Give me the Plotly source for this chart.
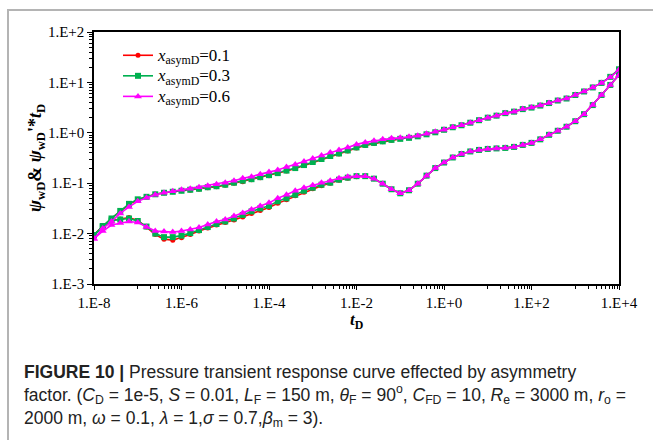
import plotly.graph_objects as go

# ---------------- data ----------------
log_t = [-8.0, -7.8, -7.6, -7.4, -7.2, -7.0, -6.8, -6.6, -6.4, -6.2,
         -6.0, -5.8, -5.6, -5.4, -5.2, -5.0, -4.8, -4.6, -4.4, -4.2,
         -4.0, -3.8, -3.6, -3.4, -3.2, -3.0, -2.8, -2.6, -2.4, -2.2,
         -2.0, -1.8, -1.6, -1.4, -1.2, -1.0, -0.8, -0.6, -0.4, -0.2,
         0.0, 0.2, 0.4, 0.6, 0.8, 1.0, 1.2, 1.4, 1.6, 1.8,
         2.0, 2.2, 2.4, 2.6, 2.8, 3.0, 3.2, 3.4, 3.6, 3.8, 4.0]

# log10 of psi_wD (pressure) for each asymmetry factor
log_psi_01 = [-2.02, -1.85, -1.70, -1.56, -1.42, -1.33, -1.27, -1.22, -1.19, -1.17,
              -1.15, -1.14, -1.12, -1.09, -1.07, -1.04, -1.00, -0.97, -0.93, -0.89,
              -0.85, -0.81, -0.76, -0.71, -0.65, -0.59, -0.53, -0.47, -0.42, -0.36,
              -0.30, -0.25, -0.21, -0.18, -0.15, -0.12, -0.10, -0.07, -0.03, 0.01,
              0.06, 0.11, 0.15, 0.20, 0.25, 0.30, 0.34, 0.39, 0.42, 0.47,
              0.50, 0.54, 0.59, 0.64, 0.68, 0.75, 0.82, 0.90, 0.99, 1.11, 1.26]
log_psi_03 = [-2.03, -1.85, -1.70, -1.55, -1.41, -1.32, -1.27, -1.22, -1.19, -1.17,
              -1.15, -1.13, -1.11, -1.08, -1.06, -1.03, -0.99, -0.95, -0.92, -0.88,
              -0.84, -0.80, -0.75, -0.70, -0.64, -0.58, -0.52, -0.46, -0.41, -0.35,
              -0.29, -0.24, -0.20, -0.17, -0.14, -0.12, -0.10, -0.07, -0.03, 0.01,
              0.06, 0.11, 0.15, 0.20, 0.25, 0.30, 0.34, 0.39, 0.42, 0.47,
              0.50, 0.54, 0.59, 0.64, 0.68, 0.75, 0.82, 0.90, 0.99, 1.11, 1.26]
log_psi_06 = [-2.10, -1.90, -1.76, -1.60, -1.47, -1.36, -1.29, -1.23, -1.19, -1.16,
              -1.13, -1.11, -1.08, -1.05, -1.02, -0.99, -0.95, -0.90, -0.87, -0.82,
              -0.78, -0.74, -0.68, -0.63, -0.57, -0.51, -0.45, -0.39, -0.34, -0.29,
              -0.23, -0.19, -0.16, -0.13, -0.11, -0.10, -0.08, -0.06, -0.02, 0.02,
              0.06, 0.11, 0.15, 0.20, 0.25, 0.30, 0.34, 0.39, 0.42, 0.47,
              0.50, 0.54, 0.59, 0.64, 0.68, 0.75, 0.82, 0.90, 0.99, 1.10, 1.25]

# log10 of psi_wD' * t_D (derivative)
log_der_01 = [-2.03, -1.86, -1.74, -1.71, -1.68, -1.74, -1.87, -2.02, -2.11, -2.13,
              -2.08, -2.02, -1.95, -1.89, -1.83, -1.78, -1.73, -1.67, -1.60, -1.54,
              -1.48, -1.40, -1.33, -1.25, -1.18, -1.11, -1.05, -1.00, -0.94, -0.90,
              -0.87, -0.86, -0.91, -1.01, -1.12, -1.20, -1.14, -1.01, -0.85, -0.70,
              -0.59, -0.49, -0.42, -0.37, -0.34, -0.32, -0.31, -0.30, -0.28, -0.24,
              -0.20, -0.13, -0.04, 0.04, 0.12, 0.23, 0.37, 0.55, 0.75, 0.95, 1.15]
log_der_03 = [-2.03, -1.86, -1.74, -1.72, -1.70, -1.75, -1.86, -2.00, -2.07, -2.07,
              -2.04, -1.99, -1.93, -1.87, -1.81, -1.76, -1.70, -1.63, -1.56, -1.50,
              -1.45, -1.36, -1.30, -1.23, -1.15, -1.09, -1.03, -0.99, -0.93, -0.89,
              -0.86, -0.86, -0.91, -1.01, -1.12, -1.20, -1.14, -1.01, -0.85, -0.70,
              -0.59, -0.49, -0.42, -0.37, -0.34, -0.32, -0.31, -0.30, -0.28, -0.24,
              -0.20, -0.13, -0.04, 0.04, 0.12, 0.23, 0.37, 0.55, 0.75, 0.95, 1.15]
log_der_06 = [-2.10, -1.95, -1.83, -1.79, -1.76, -1.78, -1.87, -1.95, -1.96, -1.97,
              -1.95, -1.92, -1.88, -1.82, -1.76, -1.72, -1.65, -1.59, -1.52, -1.45,
              -1.39, -1.30, -1.23, -1.15, -1.09, -1.04, -0.99, -0.95, -0.90, -0.87,
              -0.86, -0.86, -0.91, -1.01, -1.12, -1.20, -1.14, -1.01, -0.85, -0.70,
              -0.59, -0.49, -0.42, -0.37, -0.34, -0.32, -0.31, -0.30, -0.28, -0.24,
              -0.20, -0.13, -0.04, 0.04, 0.12, 0.23, 0.37, 0.55, 0.75, 0.95, 1.14]

series_labels = ["<i>x</i><sub>asymD</sub>=0.1",
                 "<i>x</i><sub>asymD</sub>=0.3",
                 "<i>x</i><sub>asymD</sub>=0.6"]
series_colors = ["#FF0000", "#00B050", "#FF00FF"]
series_symbols = ["circle", "square", "triangle-up"]
series_sizes = [5, 6, 7]

x_tick_exps = [-8, -6, -4, -2, 0, 2, 4]
x_tick_text = ["1.E-8", "1.E-6", "1.E-4", "1.E-2", "1.E+0", "1.E+2", "1.E+4"]
y_tick_exps = [-3, -2, -1, 0, 1, 2]
y_tick_text = ["1.E-3", "1.E-2", "1.E-1", "1.E+0", "1.E+1", "1.E+2"]

caption_lines = [
    "<b>FIGURE 10 |</b> Pressure transient response curve effected by asymmetry",
    "factor. (<i>C</i><sub>D</sub> = 1e-5, <i>S</i> = 0.01, <i>L</i><sub>F</sub> = 150 m, "
    "<i>θ</i><sub>F</sub> = 90<sup>o</sup>, <i>C</i><sub>FD</sub> = 10, "
    "<i>R</i><sub>e</sub> = 3000 m, <i>r</i><sub>o</sub> =",
    "2000 m, <i>ω</i> = 0.1, <i>λ</i> = 1,<i>σ</i> = 0.7,<i>β</i><sub>m</sub> = 3).",
]

# ---------------- figure ----------------
t = [10 ** v for v in log_t]
psi = [log_psi_01, log_psi_03, log_psi_06]
der = [log_der_01, log_der_03, log_der_06]

fig = go.Figure()
for i in range(3):
    ys = [10 ** v for v in psi[i]] + [None] + [10 ** v for v in der[i]]
    xs = t + [None] + t
    fig.add_trace(go.Scatter(
        x=xs, y=ys, mode="lines+markers",
        name="<span style='font-size:17px'>" + series_labels[i] + "</span>",
        line=dict(color=series_colors[i], width=1.6),
        marker=dict(symbol=series_symbols[i], size=series_sizes[i],
                    color=series_colors[i], line=dict(width=0)),
        connectgaps=False,
    ))

minor_x = []
for e in x_tick_exps[:-1]:
    for k in range(1, 10):
        minor_x.append(k * 10 ** (e + 1))
minor_y = []
for e in y_tick_exps[:-1]:
    for k in range(2, 10):
        minor_y.append(k * 10 ** e)

serif = "Liberation Serif, Times New Roman, serif"

L, R, T, B = 94, 34, 32, 156
W, H = 653, 440
pw, ph = W - L - R, H - T - B


def px(xp):
    return (xp - L) / pw


def py(yp):
    return (H - B - yp) / ph


fig.update_layout(
    width=W, height=H,
    margin=dict(l=L, r=R, t=T, b=B, pad=0),
    paper_bgcolor="white", plot_bgcolor="white",
    showlegend=True,
    legend=dict(x=px(118), y=py(40), xanchor="left", yanchor="top",
                bgcolor="rgba(0,0,0,0)", borderwidth=0,
                font=dict(family=serif, size=13.5, color="black"),
                tracegroupgap=0),
    xaxis=dict(type="log", range=[-8, 4],
               tickmode="array", tickvals=[10 ** e for e in x_tick_exps],
               ticktext=x_tick_text, ticks="outside", ticklen=4, tickwidth=1,
               tickcolor="black", showline=True, linecolor="black", linewidth=1.5,
               mirror=True, showgrid=False, zeroline=False,
               tickfont=dict(family=serif, size=15, color="black"),
               minor=dict(tickmode="array", tickvals=minor_x, ticks="outside",
                          ticklen=3, tickcolor="black", tickwidth=1, showgrid=False)),
    yaxis=dict(type="log", range=[-3, 2],
               tickmode="array", tickvals=[10 ** e for e in y_tick_exps],
               ticktext=y_tick_text, ticks="outside", ticklen=5, tickwidth=1,
               tickcolor="black", showline=True, linecolor="black", linewidth=1.5,
               mirror=True, showgrid=False, zeroline=False,
               tickfont=dict(family=serif, size=15, color="black"),
               minor=dict(tickmode="array", tickvals=minor_y, ticks="outside",
                          ticklen=3, tickcolor="black", tickwidth=1, showgrid=False)),
)

# outer gray frame (left and top edges visible)
fig.add_shape(type="rect", xref="paper", yref="paper",
              x0=px(8), x1=px(720), y0=py(520), y1=py(10),
              line=dict(color="#B4B4B4", width=2), fillcolor="rgba(0,0,0,0)",
              layer="above")

# axis titles
fig.add_annotation(xref="paper", yref="paper", x=px(36), y=0.5,
                   text="<b><i>ψ</i><sub>wD</sub>& <i>ψ</i><sub>wD</sub>'*<i>t</i><sub>D</sub></b>",
                   textangle=-90, showarrow=False, xanchor="center", yanchor="middle",
                   font=dict(family=serif, size=18, color="black"))
fig.add_annotation(xref="paper", yref="paper", x=0.5, y=py(321),
                   text="<b><i>t</i><sub>D</sub></b>",
                   showarrow=False, xanchor="center", yanchor="middle",
                   font=dict(family=serif, size=17, color="black"))

# caption (one text block, three lines)
fig.add_annotation(xref="paper", yref="paper", x=px(22), y=py(396),
                   text="<br>".join(caption_lines), showarrow=False,
                   xanchor="left", yanchor="middle", align="left",
                   font=dict(family="Liberation Sans, Arial, sans-serif",
                             size=17.5, color="#222222"))

fig.write_html("out.html")
